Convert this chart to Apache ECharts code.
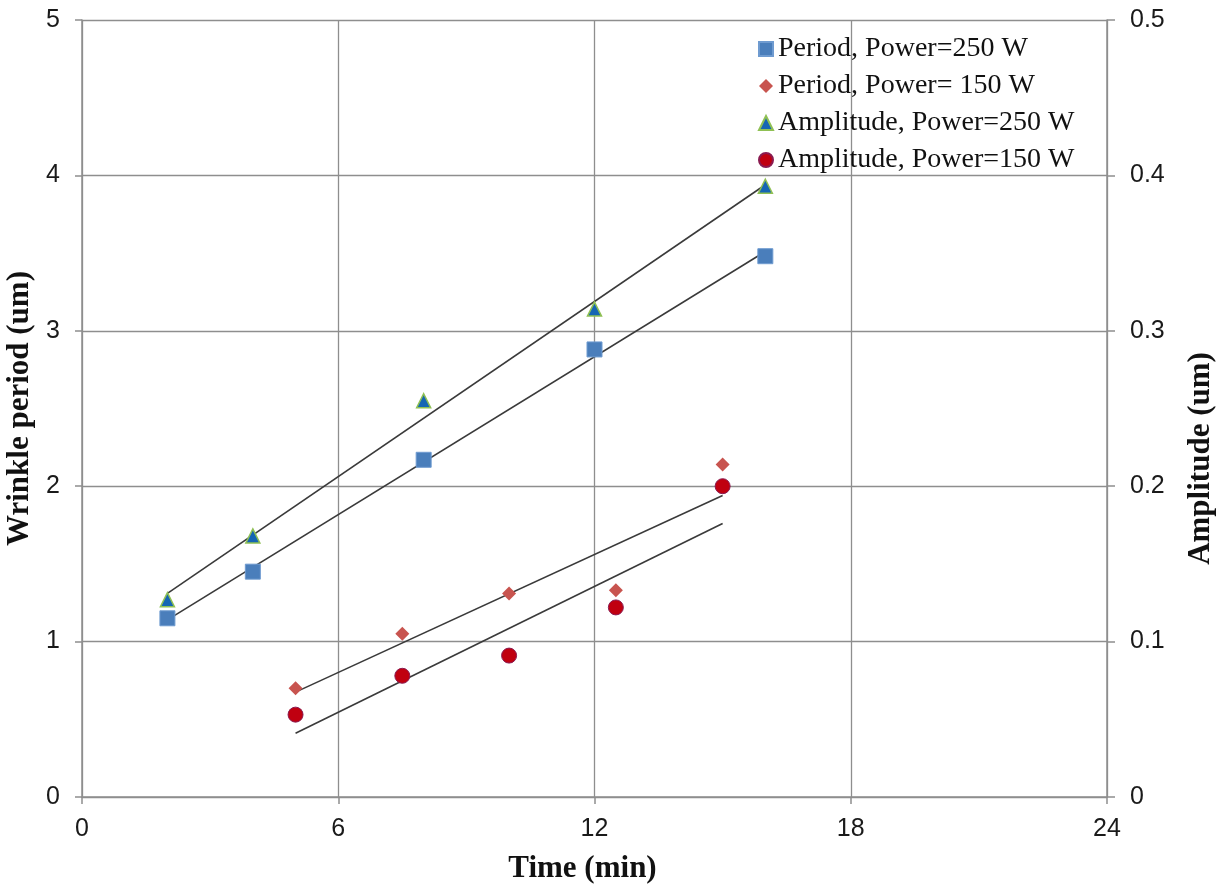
<!DOCTYPE html>
<html>
<head>
<meta charset="utf-8">
<script src="https://cdn.jsdelivr.net/npm/echarts@6/dist/echarts.min.js"></script>
<style>html,body{margin:0;padding:0;background:#fff}#c{width:1225px;height:886px}</style>
</head>
<body>
<div id="c"></div>
<script>
// Data
var xTicks = [0, 6, 12, 18, 24];
var period250X = [2, 4, 8, 12, 16];
var period250Y = [1.15, 1.45, 2.17, 2.88, 3.48];
var period150X = [5, 7.5, 10, 12.5, 15];
var period150Y = [0.70, 1.05, 1.31, 1.33, 2.14];
var amp250X = [2, 4, 8, 12, 16];
var amp250Y = [0.127, 0.168, 0.255, 0.314, 0.393];
var amp150X = [5, 7.5, 10, 12.5, 15];
var amp150Y = [0.053, 0.078, 0.091, 0.122, 0.200];
// trend line endpoints
var trendPeriod250 = [[2, 1.14], [16, 3.51]];
var trendPeriod150 = [[5, 0.675], [15, 1.94]];
var trendAmp250 = [[2, 0.131], [16, 0.394]];
var trendAmp150 = [[5, 0.041], [15, 0.176]];
var legendNames = ['Period, Power=250 W', 'Period, Power= 150 W', 'Amplitude, Power=250 W', 'Amplitude, Power=150 W'];

function pairs(xs, ys) { return xs.map(function (x, i) { return [x, ys[i]]; }); }

var chart = echarts.init(document.getElementById('c'), null, { renderer: 'canvas' });
var gridColor = '#8e8e8e';
var tickFont = { fontFamily: 'Liberation Sans, Arial, sans-serif', fontSize: 25, color: '#1a1a1a' };
var titleBase = { fontFamily: 'Liberation Serif, Times New Roman, serif', fontSize: 31, fontWeight: 'bold', color: '#111' };
var trendStyle = { color: '#3a3a3a', width: 1.6 };

chart.setOption({
  animation: false,
  backgroundColor: '#fff',
  grid: { left: 82, right: 118, top: 20, bottom: 89, containLabel: false, outerBoundsMode: 'none' },
  legend: {
    data: legendNames,
    orient: 'vertical',
    left: 753, top: 30,
    itemWidth: 14, itemHeight: 14, itemGap: 9,
    textStyle: { fontFamily: 'Liberation Serif, Times New Roman, serif', fontSize: 28, color: '#111', lineHeight: 28 },
    backgroundColor: 'transparent'
  },
  xAxis: {
    type: 'value', min: 0, max: 24, interval: 6,
    name: 'Time (min)', nameLocation: 'middle', nameGap: 56,
    nameTextStyle: Object.assign({ padding: [0, 24, 0, 0] }, titleBase),
    axisLine: { show: true, onZero: false, lineStyle: { color: gridColor, width: 1.5 } },
    axisTick: { show: true, length: 7, lineStyle: { color: gridColor, width: 1.5 } },
    axisLabel: Object.assign({ margin: 20 }, tickFont),
    splitLine: { show: true, lineStyle: { color: gridColor, width: 1.3 } }
  },
  yAxis: [{
    type: 'value', min: 0, max: 5, interval: 1,
    name: 'Wrinkle period (um)', nameLocation: 'middle', nameRotate: 90, nameGap: 42,
    nameTextStyle: titleBase,
    axisLine: { show: true, lineStyle: { color: gridColor, width: 1.5 } },
    axisTick: { show: true, length: 7, lineStyle: { color: gridColor, width: 1.5 } },
    axisLabel: Object.assign({ margin: 22 }, tickFont),
    splitLine: { show: true, lineStyle: { color: gridColor, width: 1.3 } }
  }, {
    type: 'value', min: 0, max: 0.5, interval: 0.1, position: 'right',
    name: 'Amplitude (um)', nameLocation: 'middle', nameRotate: 90, nameGap: 78,
    nameTextStyle: Object.assign({ padding: [0, 100, 0, 0] }, titleBase),
    axisLine: { show: true, lineStyle: { color: gridColor, width: 1.5 } },
    axisTick: { show: true, length: 8, lineStyle: { color: gridColor, width: 1.5 } },
    axisLabel: Object.assign({ margin: 23 }, tickFont),
    splitLine: { show: false }
  }],
  series: [
    { type: 'line', data: trendPeriod250, symbol: 'none', lineStyle: trendStyle, silent: true, z: 1 },
    { type: 'line', data: trendPeriod150, symbol: 'none', lineStyle: trendStyle, silent: true, z: 1 },
    { type: 'line', data: trendAmp250, yAxisIndex: 1, symbol: 'none', lineStyle: trendStyle, silent: true, z: 1 },
    { type: 'line', data: trendAmp150, yAxisIndex: 1, symbol: 'none', lineStyle: trendStyle, silent: true, z: 1 },
    { name: legendNames[0], type: 'scatter', data: pairs(period250X, period250Y), symbol: 'rect', symbolSize: 15,
      itemStyle: { color: '#4a7ebb', borderColor: '#6f9bd0', borderWidth: 1, opacity: 1 }, z: 3 },
    { name: legendNames[1], type: 'scatter', data: pairs(period150X, period150Y), symbol: 'diamond', symbolSize: [14, 14],
      itemStyle: { color: '#c8544f', opacity: 1 }, z: 3 },
    { name: legendNames[2], type: 'scatter', data: pairs(amp250X, amp250Y), yAxisIndex: 1, symbol: 'triangle', symbolSize: 14,
      itemStyle: { color: '#1565b4', borderColor: '#8fc054', borderWidth: 1.5, opacity: 1 }, z: 3 },
    { name: legendNames[3], type: 'scatter', data: pairs(amp150X, amp150Y), yAxisIndex: 1, symbol: 'circle', symbolSize: 15,
      itemStyle: { color: '#c00010', borderColor: '#8a1a50', borderWidth: 1, opacity: 1 }, z: 3 }
  ]
});
</script>
</body>
</html>
